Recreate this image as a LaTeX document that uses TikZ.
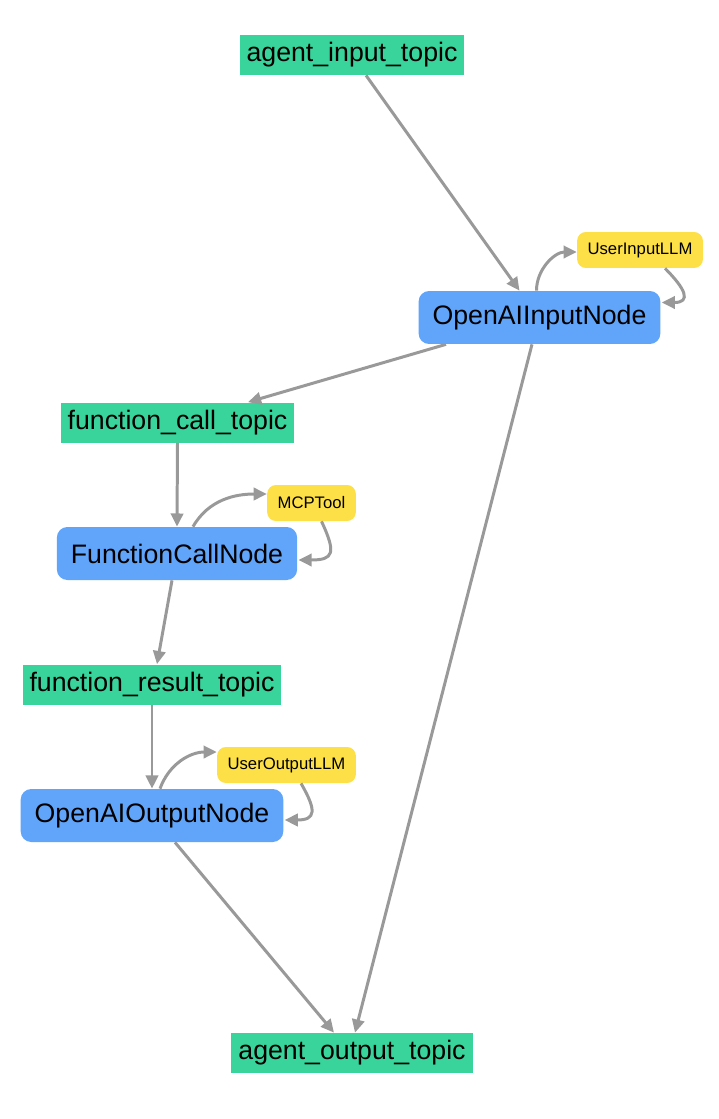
\documentclass[tikz,border=0pt]{standalone}
\usepackage{fontspec}
\setmainfont{Liberation Sans}
\usetikzlibrary{arrows.meta,positioning,calc}
\definecolor{tpgreen}{RGB}{56,212,155}
\definecolor{ndblue}{RGB}{96,165,250}
\definecolor{tlyellow}{RGB}{253,224,71}
\definecolor{edgegray}{RGB}{153,153,153}
\tikzset{
  tnode/.style={fill=tpgreen, font=\fontsize{15.2}{18}\selectfont,
                inner xsep=0.14cm, minimum height=0.8cm},
  anode/.style={fill=ndblue, rounded corners=6pt, font=\fontsize{15.2}{18}\selectfont,
                inner xsep=0.28cm, minimum height=1.06cm},
  lnode/.style={fill=tlyellow, rounded corners=5pt, font=\fontsize{9.5}{11}\selectfont,
                inner xsep=0.21cm, minimum height=0.72cm},
  link/.style={draw=edgegray, line width=1.7pt,
               -{Triangle[length=7.5pt, width=7pt]}},
}

\begin{document}
\begin{tikzpicture}[x=0.02cm, y=-0.02cm]
  \useasboundingbox (0,0) rectangle (718,1119);

  % Topics
  \node[tnode] (ait) at (352,55) {agent\_input\_topic};
  \node[tnode] (fct) at (177.5,422.5) {function\_call\_topic};
  \node[tnode] (frt) at (152,684.5) {function\_result\_topic};
  \node[tnode] (aot) at (352,1053) {agent\_output\_topic};

  % Nodes
  \node[anode] (oin) at (539.5,317.5) {OpenAIInputNode};
  \node[anode] (fcn) at (177,553.5) {FunctionCallNode};
  \node[anode] (oon) at (152,815.5) {OpenAIOutputNode};

  % Tools
  \node[lnode] (uil) at (640,250) {UserInputLLM};
  \node[lnode] (mcp) at (311.5,503) {MCPTool};
  \node[lnode] (uol) at (286.5,765) {UserOutputLLM};

  % Flow
  \draw[link] ($(ait.south)+(14,0)$) -- ($(oin.north)+(-20,0)$);
  \draw[link] ($(oin.south)+(-93.5,0)$) -- ($(fct.north)+(70.5,0)$);
  \draw[link] ($(oin.south)+(-7.5,0)$) -- ($(aot.north)+(3,0)$);
  \draw[link] (fct.south) -- (fcn.north);
  \draw[link] ($(fcn.south)+(-5,0)$) -- ($(frt.north)+(5,0)$);
  \draw[link] (frt.south) -- (oon.north);
  \draw[link] ($(oon.south)+(23,0)$) -- ($(aot.north)+(-18,0)$);

  % Tool loops
  \draw[link] ($(oin.north)+(-3,0)$) to[out=90, in=180] ($(uil.west)+(0,2)$);
  \draw[link] ($(uil.south)+(25,0)$) to[out=-45, in=0, looseness=2.2] ($(oin.east)+(1,-15)$);
  \draw[link] ($(fcn.north)+(16,0)$) to[out=60, in=180] ($(mcp.west)+(0,-9)$);
  \draw[link] ($(mcp.south)+(10,0)$) to[out=-65, in=0, looseness=2] ($(fcn.east)+(1,6.5)$);
  \draw[link] ($(oon.north)+(8,0)$) to[out=70, in=180] ($(uol.west)+(0,-13)$);
  \draw[link] ($(uol.south)+(14.5,0)$) to[out=-60, in=0, looseness=2] ($(oon.east)+(1,4.5)$);
\end{tikzpicture}
\end{document}
